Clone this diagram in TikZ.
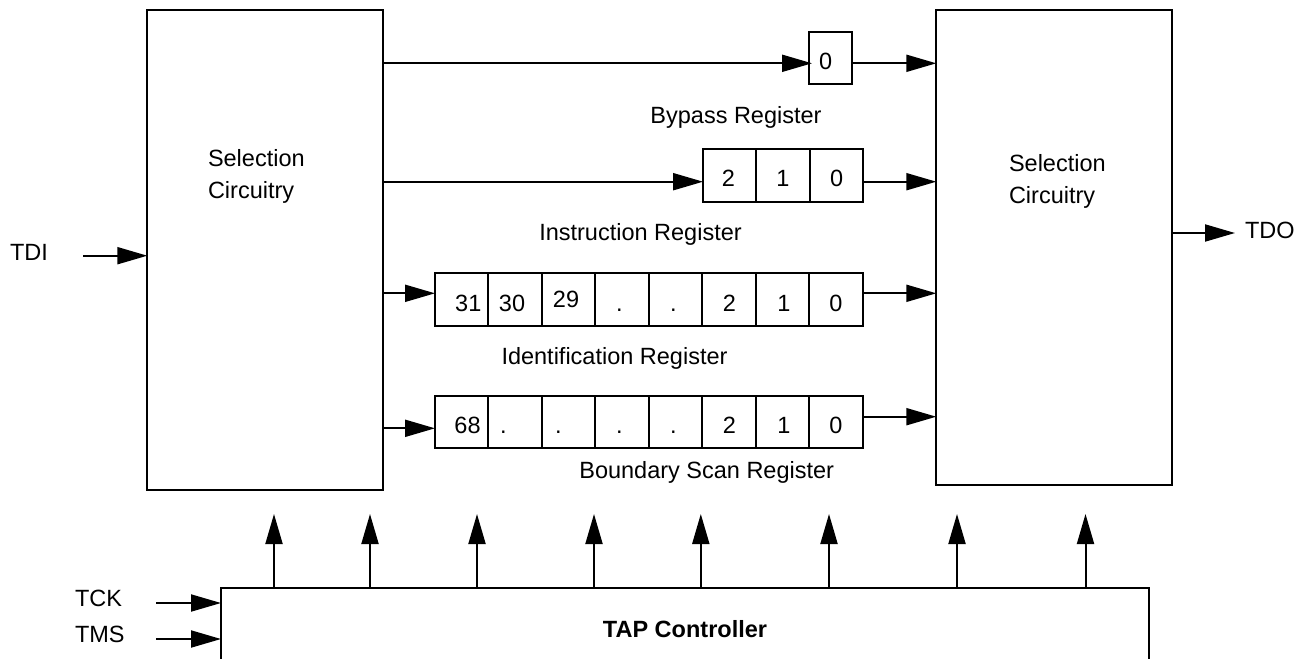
\documentclass[tikz,border=0pt]{standalone}
\usepackage{fontspec}
\setmainfont{Liberation Sans}
\usetikzlibrary{arrows.meta}
\begin{document}
\begin{tikzpicture}[x=1pt,y=-1pt,
  every node/.style={inner sep=0pt, outer sep=0pt},
  txt/.style={font=\fontsize{23.5}{31.5}\selectfont},
  boldtxt/.style={font=\fontsize{23.5}{28}\selectfont\bfseries},
  box/.style={draw, line width=2pt},
  cell/.style={draw, line width=2pt, minimum width=53.46pt, minimum height=52.6pt},
  arr/.style={line width=2pt, -{Triangle[length=30pt,width=17pt]}},
]
\useasboundingbox (0,0) rectangle (1305,658);

% main blocks
\node[box, minimum width=235.4pt, minimum height=480pt] (lsel) at (265,250) {};
\node[box, minimum width=235.4pt, minimum height=475pt] (rsel) at (1054,247.5) {};
\node[box, anchor=north west, minimum width=927.7pt, minimum height=110pt] (tap) at (221,587.7) {};

\node[txt, align=left, anchor=north west] (lseltxt) at (208,149.6) {Selection\\Circuitry};
\node[txt, align=left, anchor=north west] (rseltxt) at (1009,154.6) {Selection\\Circuitry};
\node[boldtxt, anchor=base] (taptxt) at (685,637) {TAP Controller};

% bypass register
\node[box, minimum width=43.3pt, minimum height=52.6pt] (bp) at (830.6,58) {};
\node[txt, anchor=base] (bp0) at (825.7,70) {0};
\coordinate (bpin) at (812,63.3);
\draw[arr] (lsel.east |- bpin) -- (bpin);
\draw[arr] (bp.east |- bpin) -- (rsel.west |- bpin);
\node[txt, anchor=base] (bplab) at (736,123.3) {Bypass Register};

% instruction register
\foreach \n/\x in {ir2/729.7, ir1/783, ir0/836.3}
  \node[cell, minimum width=53.3pt, minimum height=53.3pt] (\n) at (\x,175.7) {};
\foreach \n/\x/\t in {irt2/728.3/2, irt1/783/1, irt0/836.7/0}
  \node[txt, anchor=base] (\n) at (\x,186.7) {\t};
\coordinate (irin) at (0,181.7);
\draw[arr] (lsel.east |- irin) -- (ir2.west |- irin);
\draw[arr] (ir0.east |- irin) -- (rsel.west |- irin);
\node[txt, anchor=base] (irlab) at (640.5,240) {Instruction Register};

% identification register
\foreach \i in {1,...,8}
  \node[cell] (idc\i) at ({435+53.46*(\i-0.5)},299.3) {};
\foreach \n/\x/\y/\t in {idt1/468.3/311.7/31, idt2/512/311.7/30, idt3/566/307.7/29,
    idt4/619.3/311.7/., idt5/673.3/311.7/., idt6/729.3/311.7/2, idt7/784/311.7/1, idt8/836/311.7/0}
  \node[txt, anchor=base] (\n) at (\x,\y) {\t};
\coordinate (idin) at (0,293.3);
\draw[arr] (lsel.east |- idin) -- (idc1.west |- idin);
\draw[arr] (idc8.east |- idin) -- (rsel.west |- idin);
\node[txt, anchor=base] (idlab) at (614.5,364.3) {Identification Register};

% boundary scan register
\foreach \i in {1,...,8}
  \node[cell, minimum height=52.3pt] (bsc\i) at ({435+53.46*(\i-0.5)},422.2) {};
\foreach \n/\x/\t in {bst1/467.5/68, bst2/503.3/., bst3/558.3/., bst4/619.3/., bst5/673.3/.,
    bst6/729.3/2, bst7/784/1, bst8/836/0}
  \node[txt, anchor=base] (\n) at (\x,433.3) {\t};
\coordinate (bsin) at (0,428.3);
\coordinate (bsout) at (0,416.7);
\draw[arr] (lsel.east |- bsin) -- (bsc1.west |- bsin);
\draw[arr] (bsc8.east |- bsout) -- (rsel.west |- bsout);
\node[txt, anchor=base] (bslab) at (706.7,478.3) {Boundary Scan Register};

% TAP controller control lines
\foreach \x [count=\k] in {274,370,477,594,700.8,829,957,1085.5} {
  \coordinate (up\k) at (\x,514);
  \draw[arr] (tap.north -| up\k) -- (up\k);
}

% external signals
\node[txt, anchor=base west] (tdi) at (10,260) {TDI};
\coordinate (tdis) at (83,255.7);
\draw[arr] (tdis) -- (lsel.west |- tdis);

\node[txt, anchor=base west] (tck) at (75,606.7) {TCK};
\coordinate (tcks) at (156,603);
\draw[arr] (tcks) -- (tap.west |- tcks);

\node[txt, anchor=base west] (tms) at (75,642.7) {TMS};
\coordinate (tmss) at (156,639);
\draw[arr] (tmss) -- (tap.west |- tmss);

\coordinate (tdoe) at (1235,233);
\draw[arr] (rsel.east |- tdoe) -- (tdoe);
\node[txt, anchor=base west] (tdo) at (1245,238) {TDO};
\end{tikzpicture}
\end{document}
